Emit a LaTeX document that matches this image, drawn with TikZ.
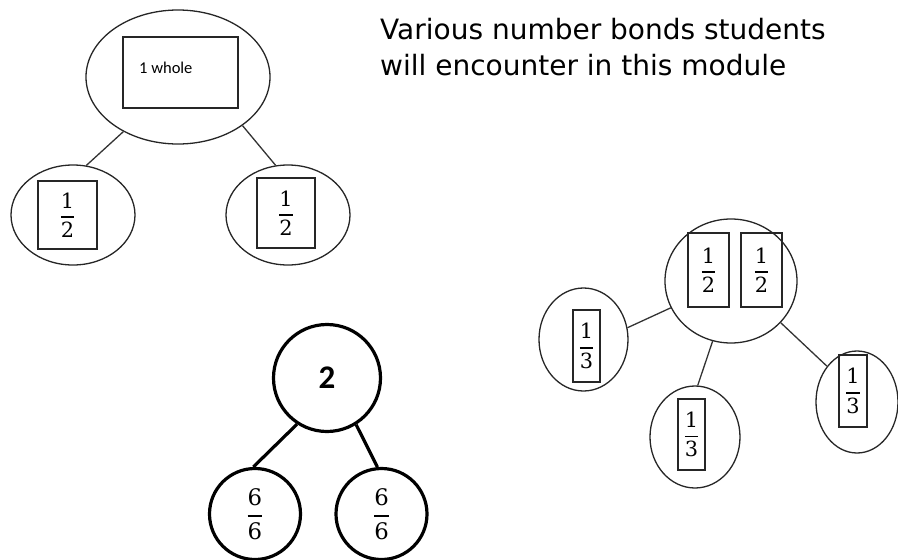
\documentclass[tikz,border=0pt]{standalone}
\usepackage{amsmath}
\usepackage{fontspec}
\setmainfont{Carlito}
\newfontfamily\titlefont{DejaVu Sans}
\newfontfamily\fracfont{DejaVu Serif}[Scale=0.95]
\usetikzlibrary{positioning, shapes.geometric}

\newcommand{\bondfrac}[2]{$\displaystyle\genfrac{}{}{1.4pt}{0}{\text{\fracfont #1}}{\text{\fracfont #2}}$}
\newcommand{\fracsize}{\fontsize{22}{26}\selectfont}

\tikzset{
    bond/.style={draw=black!85, ellipse, inner sep=0pt, line width=1.3pt},
    part/.style={draw=black!85, rectangle, inner sep=0pt, line width=1.4pt, font=\fracsize},
    link/.style={draw=black!80, line width=1.3pt},
    thickbond/.style={draw=black, circle, inner sep=0pt, line width=3.2pt},
}

\begin{document}
\begin{tikzpicture}[x=1pt, y=-1pt]
    \useasboundingbox (0,0) rectangle (898,560);

    % Heading
    \node[font=\titlefont\fontsize{28}{36}\selectfont, align=left, anchor=north west, inner sep=0pt]
        (title) at (380,18) {Various number bonds students\\will encounter in this module};

    % One whole split into two halves
    \node[bond, minimum width=184pt, minimum height=134pt] (whole) at (178,77) {};
    \node[part, minimum width=115pt, minimum height=71pt] (wholebox) at (180.5,72.5) {};
    \node[font=\fontsize{16.5}{19}\selectfont, anchor=west, inner sep=0pt] (wholetext) at (139,68) {1 whole};

    \node[bond, minimum width=124pt, minimum height=100pt] (halfL) at (73,215) {};
    \node[part, minimum width=59pt, minimum height=68pt] (halfLbox) at (67.5,215) {\bondfrac{1}{2}};
    \node[bond, minimum width=124pt, minimum height=100pt] (halfR) at (288,215) {};
    \node[part, minimum width=58pt, minimum height=70pt] (halfRbox) at (286,213) {\bondfrac{1}{2}};

    \draw[link] (whole.225) -- (halfL.75);
    \draw[link] (whole.323) -- (halfR.104);

    % Two wholes as sixths
    \node[thickbond, minimum size=107pt, font=\bfseries\fontsize{33}{40}\selectfont] (two) at (327,378) {2};
    \node[thickbond, minimum size=91pt, font=\fontsize{24}{28}\selectfont] (sixL) at (255,514) {\bondfrac{6}{6}};
    \node[thickbond, minimum size=91pt, font=\fontsize{24}{28}\selectfont] (sixR) at (381.5,514) {\bondfrac{6}{6}};

    \draw[line width=3.2pt] (two.237) -- (sixL.92);
    \draw[line width=3.2pt] (two.302) -- (sixR.95);

    % Two halves split into thirds
    \node[bond, minimum width=132pt, minimum height=124pt] (halves) at (731,281) {};
    \node[part, minimum width=41pt, minimum height=74pt] (halfA) at (708.5,270) {\bondfrac{1}{2}};
    \node[part, minimum width=41pt, minimum height=74pt] (halfB) at (761.5,270) {\bondfrac{1}{2}};

    \node[bond, minimum width=89pt, minimum height=103pt] (thirdL) at (583.5,339.5) {};
    \node[part, minimum width=27pt, minimum height=72pt] (thirdLbox) at (586.5,346) {\bondfrac{1}{3}};
    \node[bond, minimum width=90pt, minimum height=102pt] (thirdM) at (695,437) {};
    \node[part, minimum width=27pt, minimum height=71pt] (thirdMbox) at (691.5,434.5) {\bondfrac{1}{3}};
    \node[bond, minimum width=82pt, minimum height=102pt] (thirdR) at (857,402) {};
    \node[part, minimum width=28pt, minimum height=72pt] (thirdRbox) at (853,391) {\bondfrac{1}{3}};

    \draw[link] (halves.204) -- (thirdL.15);
    \draw[link] (halves.253) -- (thirdM.87);
    \draw[link] (halves.320) -- (thirdR.130);
\end{tikzpicture}
\end{document}
